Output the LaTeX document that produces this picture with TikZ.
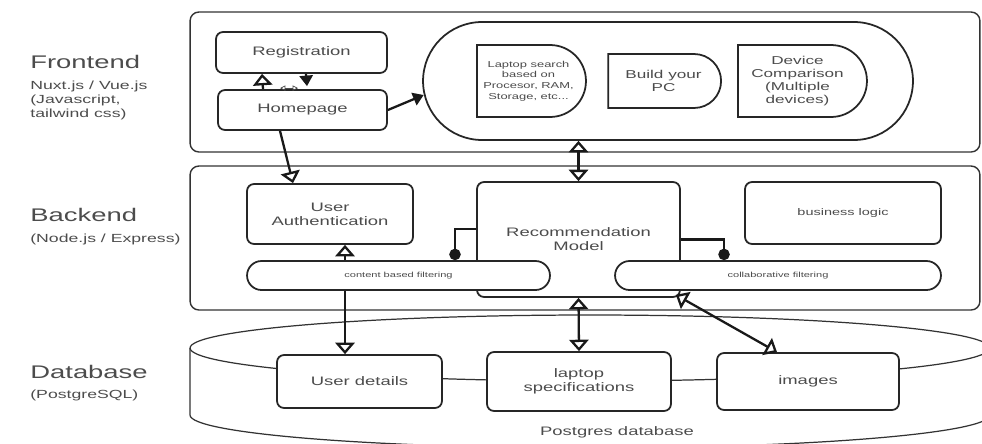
\documentclass[tikz,border=0pt]{standalone}
\usepackage{fontspec}
\setmainfont{Liberation Sans}[FakeStretch=1.5]
\usepackage{tikz}
\usetikzlibrary{arrows.meta,positioning,shapes.misc}
\tikzstyle{every node}=[text=black!70,inner sep=0pt]
\tikzstyle{title}=[anchor=west,font=\fontsize{10.4}{12}\selectfont]
\tikzstyle{sub}=[align=left,font=\fontsize{6.7}{7.9}\selectfont]
\tikzstyle{frame}=[draw=black!80,rounded corners=5pt,line width=0.8pt]
\tikzstyle{box}=[draw=black!85,fill=white,rounded corners=4pt,line width=1pt,align=center,font=\fontsize{7}{8}\selectfont]
\tikzstyle{pill}=[rounded rectangle,draw=black!85,fill=white,line width=1pt,font=\fontsize{4.2}{5}\selectfont]
\tikzstyle{dbox}=[rounded rectangle,rounded rectangle left arc=none,draw=black!85,fill=white,line width=1pt,align=center]
\tikzstyle{db}=[draw=black!80,line width=0.7pt]
\tikzstyle{link}=[draw=black!90,line width=1.3pt]
\tikzstyle{oarr}=[link,-{Triangle[open,width=11pt,length=6.5pt]}]
\tikzstyle{odbl}=[link,{Triangle[open,width=11pt,length=6.5pt]}-{Triangle[open,width=11pt,length=6.5pt]}]
\tikzstyle{farr}=[link,-{Triangle[width=7.5pt,length=6pt]}]
\tikzstyle{dot}=[link,-{Circle[length=6.5pt]}]

\begin{document}
\begin{tikzpicture}[x=0.02cm,y=-0.02cm]
  \useasboundingbox (0,0) rectangle (982,443);
  \clip (0,0) rectangle (982,443);

  % layers
  \node[frame,minimum width=15.8cm,minimum height=2.8cm] (fe) at (585,82) {};
  \node[frame,minimum width=15.8cm,minimum height=2.88cm] (be) at (585,238) {};
  \draw[db] (590,348) ellipse [x radius=8cm,y radius=0.66cm];
  \draw[db] (190,348) -- (190,415) arc [start angle=180,end angle=360,x radius=8cm,y radius=0.66cm];

  \node[title] (fet) at (30,62) {Frontend};
  \node[sub,below=0.37cm of fet.west,anchor=north west] (fes) {Nuxt.js / Vue.js\\(Javascript,\\tailwind css)};
  \node[title] (bet) at (30,215) {Backend};
  \node[sub,below=0.48cm of bet.west,anchor=west] (bes) {(Node.js / Express)};
  \node[title] (dbt) at (30,372) {Database};
  \node[sub,below=0.46cm of dbt.west,anchor=west] (dbs) {(PostgreSQL)};

  % frontend
  \node[box,minimum width=3.42cm,minimum height=0.82cm] (reg) at (301.5,52.5) {Registration};
  \node[box,minimum width=3.38cm,minimum height=0.8cm] (home) at (302.5,110) {Homepage};
  \node[pill,minimum width=9.8cm,minimum height=2.36cm] (ui) at (668,81) {};
  \node[dbox,minimum width=2.18cm,minimum height=1.44cm,font=\fontsize{4.9}{6}\selectfont] (srch) at (528.5,81) {Laptop search\\based on\\Procesor, RAM,\\Storage, etc...};
  \node[dbox,minimum width=2.26cm,minimum height=1.08cm,font=\fontsize{6.5}{7.4}\selectfont] (pc) at (663.5,81) {Build your\\PC};
  \node[dbox,minimum width=2.58cm,minimum height=1.44cm,font=\fontsize{6.5}{7.4}\selectfont] (cmp) at (797.5,81) {Device\\Comparison\\(Multiple\\devices)};

  % backend
  \node[box,minimum width=3.32cm,minimum height=1.2cm] (auth) at (330,214) {User\\Authentication};
  \node[box,minimum width=4.06cm,minimum height=2.3cm] (rec) at (578.5,239.5) {Recommendation\\Model};
  \node[box,minimum width=3.92cm,minimum height=1.24cm,font=\fontsize{5.5}{6.5}\selectfont] (biz) at (843,213) {business logic};
  \node[pill,minimum width=6.06cm,minimum height=0.58cm] (cbf) at (398.5,275.5) {content based filtering};
  \node[pill,minimum width=6.52cm,minimum height=0.58cm] (cf) at (778,275.5) {collaborative filtering};

  % database
  \node[box,minimum width=3.3cm,minimum height=1.06cm] (ud) at (359.5,381.5) {User details};
  \node[box,minimum width=3.68cm,minimum height=1.18cm] (spec) at (579,381.5) {laptop\\specifications};
  \node[box,minimum width=3.64cm,minimum height=1.14cm] (img) at (808,381.5) {images};
  \node[font=\fontsize{7}{8}\selectfont] (pgd) at (617,432) {Postgres database};

  % connectors
  \draw[oarr] ([xshift=-0.79cm]home.north) -- ([xshift=-0.79cm]reg.south);
  \draw[oarr] ([xshift=-0.45cm]home.south) -- ([xshift=-0.74cm]auth.north);
  \draw[oarr] ([xshift=0.3cm]auth.south |- cbf.north) -- ([xshift=0.3cm]auth.south);
  \draw[oarr] ([xshift=-0.29cm]ud.north |- cbf.south) -- ([xshift=-0.29cm]ud.north);
  \draw[odbl] (rec.north |- ui.south) -- (rec.north);
  \draw[odbl] (rec.south) -- (spec.north);
  \draw[odbl] ([xshift=-0.1cm,yshift=0.06cm]rec.south east) -- ([xshift=-0.62cm]img.north);
  \draw[farr] ([xshift=0.09cm]reg.south) -- ([xshift=0.09cm,yshift=0.06cm]home.north);
  \draw[farr] (home.east) -- ([xshift=0.03cm,yshift=-0.28cm]ui.west);
  \draw[black!70,line width=0.4pt,{Triangle[open,width=3pt,length=3pt]}-{Triangle[open,width=3pt,length=3pt]}] ([xshift=-0.45cm,yshift=0.02cm]home.north) -- ([xshift=-0.09cm,yshift=0.02cm]home.north);
  \draw[dot] ([yshift=0.21cm]rec.west) -| ([xshift=1.13cm]cbf.north);
  \draw[dot] (rec.east) -| ([xshift=-1.08cm]cf.north);
\end{tikzpicture}
\end{document}
